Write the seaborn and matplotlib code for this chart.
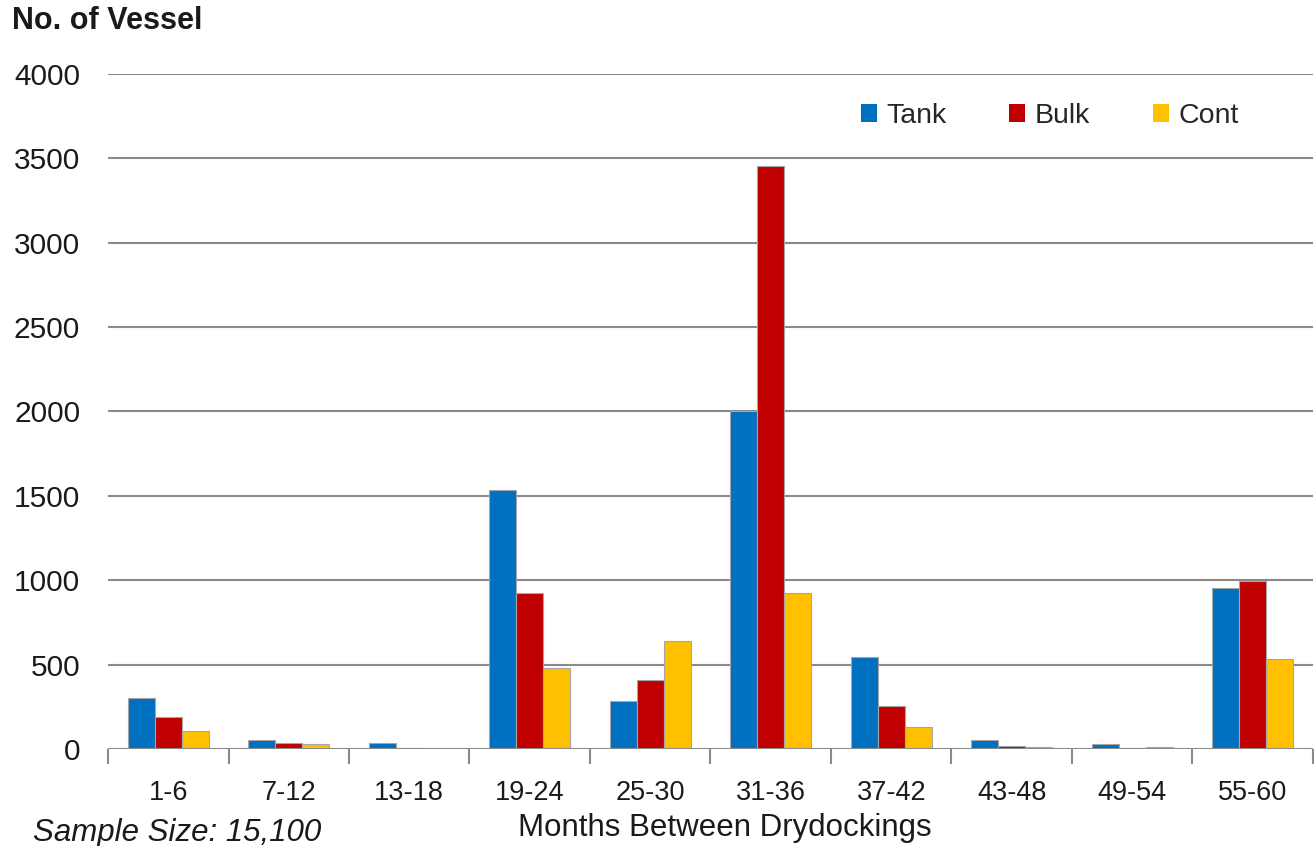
import matplotlib
matplotlib.use("Agg")
import matplotlib.pyplot as plt
import seaborn as sns
import pandas as pd
import numpy as np

# Vessel counts by interval between drydockings
categories = ["1-6", "7-12", "13-18", "19-24", "25-30", "31-36",
              "37-42", "43-48", "49-54", "55-60"]
tank = [300, 56, 38, 1535, 282, 2005, 547, 56, 28, 951]
bulk = [187, 36, 8, 927, 407, 3455, 256, 20, 8, 997]
cont = [107, 28, 2, 481, 637, 925, 133, 10, 10, 535]
series = ["Tank", "Bulk", "Cont"]
colors = ["#0070C0", "#C00000", "#FFC000"]
y_ticks = [0, 500, 1000, 1500, 2000, 2500, 3000, 3500, 4000]

df = pd.DataFrame({
    "Months": categories * 3,
    "Vessels": tank + bulk + cont,
    "Type": [s for s in series for _ in categories],
})

sns.set_theme(style="white")
plt.rcParams["font.family"] = ["Liberation Sans", "DejaVu Sans"]

fig = plt.figure(figsize=(13.14, 8.46), dpi=100)
ax = fig.add_axes([0.0822, 0.1147, 0.9170, 0.7978])

sns.barplot(data=df, x="Months", y="Vessels", hue="Type", order=categories,
            hue_order=series, palette=colors, saturation=1, width=0.67, gap=0,
            edgecolor="#a6a6a6", linewidth=0.8, ax=ax, zorder=3)

grid_c = "#8a8a8a"
ax.set_ylim(0, 4000)
ax.set_xlim(-0.5, len(categories) - 0.5)
ax.set_yticks(y_ticks)
ax.set_yticklabels([str(v) for v in y_ticks], fontsize=21.5, color="#1a1a1a")
for v in y_ticks[1:]:
    ax.axhline(v, color=grid_c, lw=1.5, zorder=1)
ax.axhline(0, color=grid_c, lw=1.5, zorder=4)

for s in ["top", "right", "left", "bottom"]:
    ax.spines[s].set_visible(False)

# category labels centred, tick marks at category boundaries
ax.set_xticks(range(len(categories)))
ax.set_xticklabels(categories, fontsize=19.5, color="#1a1a1a")
ax.set_xticks(np.arange(-0.5, len(categories), 1.0), minor=True)
ax.tick_params(axis="x", which="major", length=0, pad=22)
ax.tick_params(axis="x", which="minor", length=11, width=1.5, color=grid_c,
               direction="out", bottom=True)
ax.tick_params(axis="y", length=0, pad=20)

ax.set_xlabel("")
ax.set_ylabel("")

fig.text(0.009, 0.975, "No. of Vessel", fontsize=22, fontweight="bold",
         ha="left", va="center", color="#1a1a1a")
fig.text(0.5515, 0.021, "Months Between Drydockings", fontsize=22.5,
         ha="center", va="center", color="#1a1a1a")
fig.text(0.025, 0.015, "Sample Size: 15,100", fontsize=22.5, style="italic",
         ha="left", va="center", color="#1a1a1a")

handles, labels = ax.get_legend_handles_labels()
leg = ax.legend(handles, labels, ncol=3, loc="upper right",
                bbox_to_anchor=(0.96, 0.995), frameon=False, fontsize=20.5,
                handlelength=0.55, handleheight=0.55, handletextpad=0.35,
                columnspacing=2.2)
for h in leg.legend_handles:
    h.set_edgecolor("none")

fig.savefig("out.png", dpi=100)
